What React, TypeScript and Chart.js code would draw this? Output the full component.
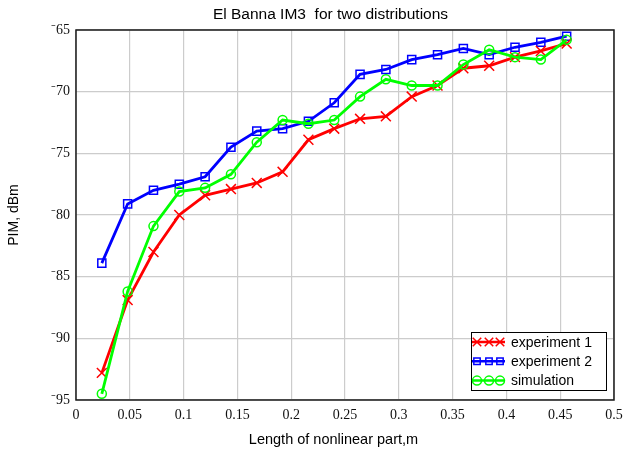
import React, { useEffect, useRef } from 'react';
import { Chart, registerables } from 'chart.js';

Chart.register(...registerables);

const chartTitle = 'El Banna IM3  for two distributions';
const xTitle = 'Length of nonlinear part,m';
const yTitle = 'PIM, dBm';
const seriesLabels = ['experiment 1', 'experiment 2', 'simulation'];

const lengths = [0.024, 0.048, 0.072, 0.096, 0.12, 0.144, 0.168, 0.192, 0.216, 0.24, 0.264, 0.288, 0.312, 0.336, 0.36, 0.384, 0.408, 0.432, 0.456];
const experiment1 = [-92.8, -86.9, -83.0, -80.0, -78.4, -77.9, -77.4, -76.5, -73.9, -73.0, -72.2, -72.0, -70.4, -69.5, -68.1, -67.9, -67.2, -66.7, -66.1];
const experiment2 = [-83.9, -79.1, -78.0, -77.5, -76.9, -74.5, -73.2, -73.0, -72.4, -70.9, -68.6, -68.2, -67.4, -67.0, -66.5, -67.0, -66.4, -66.0, -65.5];
const simulation = [-94.5, -86.2, -80.9, -78.1, -77.8, -76.7, -74.1, -72.3, -72.6, -72.3, -70.4, -69.0, -69.5, -69.5, -67.8, -66.6, -67.2, -67.4, -65.8];

const xTicks = [0, 0.05, 0.1, 0.15, 0.2, 0.25, 0.3, 0.35, 0.4, 0.45, 0.5];
const yTicks = [-95, -90, -85, -80, -75, -70, -65];

const colors = ['#ff0000', '#0000ff', '#00ff00'];
const markers = ['crossRot', 'rect', 'circle'];
const markerRadius = [7, 5.7, 4.5];

const SANS = '"Liberation Sans", Arial, sans-serif';
const SERIF = '"Liberation Serif", "Times New Roman", serif';

function drawMarker(ctx: CanvasRenderingContext2D, style: string, x: number, y: number, r: number) {
  ctx.beginPath();
  if (style === 'crossRot') {
    const o = r * Math.SQRT1_2;
    ctx.moveTo(x - o, y - o);
    ctx.lineTo(x + o, y + o);
    ctx.moveTo(x + o, y - o);
    ctx.lineTo(x - o, y + o);
  } else if (style === 'rect') {
    const s = r * Math.SQRT1_2;
    ctx.rect(x - s, y - s, 2 * s, 2 * s);
  } else {
    ctx.arc(x, y, r, 0, Math.PI * 2);
  }
  ctx.stroke();
}

const decorPlugin = {
  id: 'decor',
  afterDatasetsDraw(chart: any) {
    const { ctx, chartArea: a } = chart;
    ctx.save();
    // frame
    ctx.strokeStyle = '#1a1a1a';
    ctx.lineWidth = 1.5;
    ctx.strokeRect(a.left, a.top, a.right - a.left, a.bottom - a.top);

    // legend
    const lx = 471.5, ly = 332.5, lw = 135, lh = 58;
    ctx.fillStyle = '#ffffff';
    ctx.fillRect(lx, ly, lw, lh);
    ctx.strokeStyle = '#000000';
    ctx.lineWidth = 1;
    ctx.strokeRect(lx, ly, lw, lh);
    ctx.font = '14px ' + SANS;
    ctx.textAlign = 'left';
    ctx.textBaseline = 'middle';
    for (let i = 0; i < seriesLabels.length; i++) {
      const y = 342 + i * 19.3;
      ctx.strokeStyle = colors[i];
      ctx.lineWidth = 2.5;
      ctx.beginPath();
      ctx.moveTo(472, y);
      ctx.lineTo(505, y);
      ctx.stroke();
      ctx.lineWidth = 1.5;
      for (const mx of [477, 489, 500]) {
        drawMarker(ctx, markers[i], mx, y, i === 0 ? 6 : 4.5);
      }
      ctx.fillStyle = '#000000';
      ctx.fillText(seriesLabels[i], 511, y + 1);
    }
    ctx.restore();
  },
  afterDraw(chart: any) {
    const { ctx } = chart;
    ctx.save();
    ctx.fillStyle = '#000000';
    ctx.textAlign = 'center';
    ctx.textBaseline = 'middle';
    ctx.font = '15.5px ' + SANS;
    ctx.fillText(chartTitle, 330.5, 15);
    ctx.font = '14.5px ' + SANS;
    ctx.fillText(xTitle, 333.5, 440);
    ctx.restore();
  },
};

export default function App() {
  const ref = useRef<HTMLCanvasElement>(null);

  useEffect(() => {
    document.body.style.margin = '0';
    const seriesValues = [experiment1, experiment2, simulation];
    const chart = new Chart(ref.current as HTMLCanvasElement, {
      type: 'line',
      data: {
        datasets: seriesValues.map((vals, i) => ({
          label: seriesLabels[i],
          data: lengths.map((x, k) => ({ x, y: vals[k] })),
          borderColor: colors[i],
          backgroundColor: 'rgba(0,0,0,0)',
          borderWidth: 2.8,
          pointStyle: markers[i] as any,
          pointRadius: markerRadius[i],
          pointBorderWidth: 1.5,
          pointBorderColor: colors[i],
          pointBackgroundColor: 'rgba(0,0,0,0)',
          tension: 0,
          fill: false,
          order: i === 2 ? 0 : i + 1,
        })),
      },
      options: {
        animation: false,
        responsive: false,
        layout: { padding: { top: 30, right: 10, left: 0, bottom: 0 } },
        plugins: {
          legend: { display: false },
          title: { display: false },
          tooltip: { enabled: false },
        },
        scales: {
          x: {
            type: 'linear',
            min: 0,
            max: 0.5,
            afterBuildTicks: (s: any) => {
              s.ticks = xTicks.map((v) => ({ value: v }));
            },
            afterFit: (s: any) => {
              s.height = 56;
              s.paddingLeft = 0;
              s.paddingRight = 0;
            },
            grid: { color: '#cccccc', lineWidth: 1.2, drawTicks: false },
            border: { display: false },
            ticks: {
              padding: 7,
              color: '#111111',
              font: { family: SERIF, size: 14 },
              maxRotation: 0,
              autoSkip: false,
              callback: (v: any) => String(Number(Number(v).toFixed(2))),
            },
          },
          y: {
            type: 'linear',
            min: -95,
            max: -65,
            afterBuildTicks: (s: any) => {
              s.ticks = yTicks.map((v) => ({ value: v }));
            },
            afterFit: (s: any) => {
              s.width = 76;
              s.paddingTop = 0;
              s.paddingBottom = 0;
            },
            grid: { color: '#cccccc', lineWidth: 1.2, drawTicks: false },
            border: { display: false },
            title: {
              display: true,
              text: yTitle,
              color: '#000000',
              font: { family: SANS, size: 14 },
              padding: { top: 6, bottom: 0 },
            },
            ticks: {
              padding: 6,
              color: '#111111',
              font: { family: SERIF, size: 14 },
              autoSkip: false,
              callback: (v: any) => '\u207B' + Math.abs(Number(v)),
            },
          },
        },
      },
      plugins: [decorPlugin],
    });
    return () => chart.destroy();
  }, []);

  return (
    <div style={{ width: 624, height: 456 }}>
      <canvas ref={ref} width={624} height={456} />
    </div>
  );
}
